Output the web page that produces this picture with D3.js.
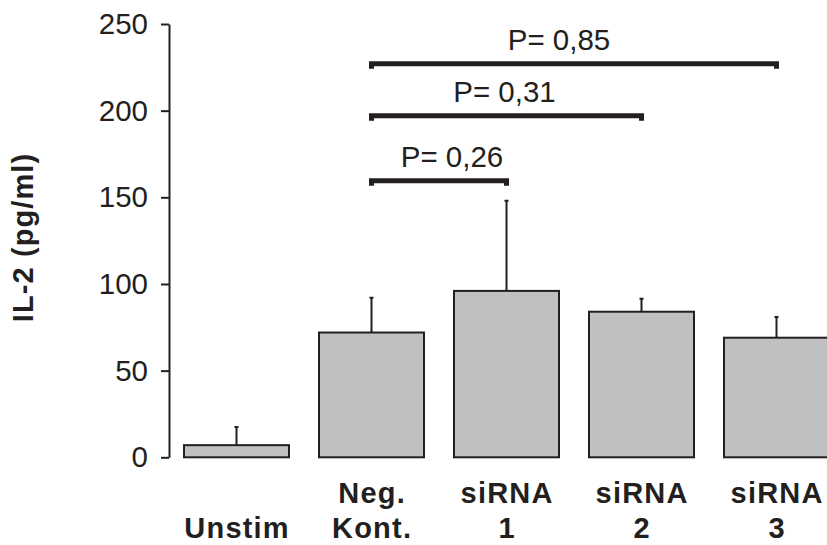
<!DOCTYPE html>
<html>
<head>
<meta charset="utf-8">
<script src="https://cdn.jsdelivr.net/npm/d3@7"></script>
<style>
	body { margin: 0; background: #fff; }
	text { font-family: "Liberation Sans", Arial, sans-serif; fill: #231f20; }
</style>
</head>
<body>
<div id="barChart"></div>
<script>
var categories = ['Unstim', 'Neg. Kont.', 'siRNA 1', 'siRNA 2', 'siRNA 3'];
var label_lines = [['', 'Unstim'], ['Neg.', 'Kont.'], ['siRNA', '1'], ['siRNA', '2'], ['siRNA', '3']];
var means  = [7, 72, 96, 84, 69];
var errors = [17.5, 92, 148, 91.5, 81];
var y_ticks = [0, 50, 100, 150, 200, 250];

// comparisons: from, to, height of bracket, p value text
var comp_from   = ['Neg. Kont.', 'Neg. Kont.', 'Neg. Kont.'];
var comp_to     = ['siRNA 1', 'siRNA 2', 'siRNA 3'];
var comp_height = [159.5, 197, 227];
var comp_text   = ['P= 0,26', 'P= 0,31', 'P= 0,85'];
var comp_dx     = [13, -2, -15];

var chart_width  = 827;
var chart_height = 545;

var svg = d3.select('#barChart')
			.append('svg')
			.attr('width', chart_width)
			.attr('height', chart_height);

// scales
var x_scale = d3.scaleBand()
				.domain(categories)
				.range([169, 844])
				.paddingInner(30 / 135)
				.paddingOuter(15 / 135);

var y_scale = d3.scaleLinear()
				.domain([0, 250])
				.range([457.3, 24]);

// y axis
var y_axis = d3.axisLeft(y_scale)
			   .tickValues(y_ticks)
			   .tickSize(8)
			   .tickSizeOuter(0)
			   .tickPadding(13);

var gy = svg.append('g')
	.attr('transform', 'translate(169,0)')
	.call(y_axis);
gy.selectAll('path, line')
	.attr('stroke', '#231f20')
	.attr('stroke-width', 2);
gy.selectAll('text')
	.style('font-size', '29.5px')
	.attr('fill', '#231f20');

// y title
svg.append('text')
	.attr('transform', 'translate(33,237.5) rotate(-90)')
	.attr('text-anchor', 'middle')
	.style('font-size', '29px')
	.style('font-weight', 'bold')
	.style('letter-spacing', '1.1px')
	.text('IL-2 (pg/ml)');

// error bars (drawn first, bars cover the lower part)
var cx = function(i) { return x_scale(categories[i]) + x_scale.bandwidth() / 2; };

svg.selectAll('.err')
	.data(errors)
	.enter()
	.append('path')
	.attr('class', 'err')
	.attr('fill', 'none')
	.attr('stroke', '#231f20')
	.attr('stroke-width', 2)
	.attr('d', function(d, i) {
		var x = cx(i);
		return 'M' + x + ',' + y_scale(means[i]) + 'V' + y_scale(d) +
			'M' + (x - 2) + ',' + y_scale(d) + 'H' + (x + 2);
	});

// bars
svg.selectAll('.bar')
	.data(means)
	.enter()
	.append('rect')
	.attr('class', 'bar')
	.attr('x', function(d, i) { return x_scale(categories[i]); })
	.attr('y', function(d) { return y_scale(d); })
	.attr('width', x_scale.bandwidth())
	.attr('height', function(d) { return y_scale(0) - y_scale(d); })
	.attr('fill', '#bfc0c2')
	.attr('stroke', '#231f20')
	.attr('stroke-width', 2);

// category labels, two lines
var labels = svg.selectAll('.xlab')
	.data(label_lines)
	.enter()
	.append('g')
	.attr('class', 'xlab')
	.attr('transform', function(d, i) { return 'translate(' + cx(i) + ',0)'; });

labels.append('text')
	.attr('y', 503)
	.attr('x', 0.6)
	.attr('text-anchor', 'middle')
	.style('font-size', '29px')
	.style('font-weight', 'bold')
	.style('letter-spacing', '1.2px')
	.text(function(d) { return d[0]; });

labels.append('text')
	.attr('y', 538)
	.attr('x', 0.6)
	.attr('text-anchor', 'middle')
	.style('font-size', '29px')
	.style('font-weight', 'bold')
	.style('letter-spacing', '1.2px')
	.text(function(d) { return d[1]; });

// significance brackets
comp_text.forEach(function(t, i) {
	var x1 = x_scale(comp_from[i]) + x_scale.bandwidth() / 2;
	var x2 = x_scale(comp_to[i]) + x_scale.bandwidth() / 2;
	var y  = y_scale(comp_height[i]);

	svg.append('path')
		.attr('fill', 'none')
		.attr('stroke', '#231f20')
		.attr('stroke-width', 5)
		.attr('d', 'M' + x1 + ',' + (y + 5) + 'V' + y + 'H' + x2 + 'V' + (y + 5));

	svg.append('text')
		.attr('x', (x1 + x2) / 2 + comp_dx[i])
		.attr('y', y - 14)
		.attr('text-anchor', 'middle')
		.style('font-size', '29.5px')
		.text(t);
});
</script>
</body>
</html>
